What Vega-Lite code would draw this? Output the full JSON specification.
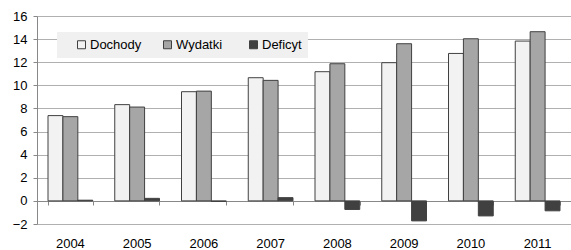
{
  "$schema": "https://vega.github.io/schema/vega-lite/v6.json",
  "width": 534,
  "height": 208,
  "autosize": {"type": "none"},
  "padding": {"left": 37, "top": 16, "right": 0, "bottom": 26},
  "config": {
    "font": "Liberation Sans",
    "view": {"stroke": null},
    "axis": {"labelFont": "Liberation Sans", "labelFontSize": 13, "labelColor": "#000000"}
  },
  "data": {
    "values": [
      {"Rok": "2004", "Seria": "Dochody", "v": 7.38},
      {"Rok": "2004", "Seria": "Wydatki", "v": 7.29},
      {"Rok": "2004", "Seria": "Deficyt", "v": 0.06},
      {"Rok": "2005", "Seria": "Dochody", "v": 8.33},
      {"Rok": "2005", "Seria": "Wydatki", "v": 8.12},
      {"Rok": "2005", "Seria": "Deficyt", "v": 0.22},
      {"Rok": "2006", "Seria": "Dochody", "v": 9.45},
      {"Rok": "2006", "Seria": "Wydatki", "v": 9.5},
      {"Rok": "2006", "Seria": "Deficyt", "v": -0.05},
      {"Rok": "2007", "Seria": "Dochody", "v": 10.66},
      {"Rok": "2007", "Seria": "Wydatki", "v": 10.43},
      {"Rok": "2007", "Seria": "Deficyt", "v": 0.28},
      {"Rok": "2008", "Seria": "Dochody", "v": 11.18},
      {"Rok": "2008", "Seria": "Wydatki", "v": 11.87},
      {"Rok": "2008", "Seria": "Deficyt", "v": -0.74},
      {"Rok": "2009", "Seria": "Dochody", "v": 11.96},
      {"Rok": "2009", "Seria": "Wydatki", "v": 13.6},
      {"Rok": "2009", "Seria": "Deficyt", "v": -1.73},
      {"Rok": "2010", "Seria": "Dochody", "v": 12.76},
      {"Rok": "2010", "Seria": "Wydatki", "v": 14.03},
      {"Rok": "2010", "Seria": "Deficyt", "v": -1.3},
      {"Rok": "2011", "Seria": "Dochody", "v": 13.83},
      {"Rok": "2011", "Seria": "Wydatki", "v": 14.64},
      {"Rok": "2011", "Seria": "Deficyt", "v": -0.86}
    ]
  },
  "resolve": {"axis": {"x": "independent", "y": "independent"}},
  "layer": [
    {
      "mark": {"type": "bar", "stroke": "#404040", "strokeWidth": 1},
      "encoding": {
        "x": {"field": "Rok", "type": "nominal",
          "scale": {"paddingInner": 0.33, "paddingOuter": 0.165},
          "axis": {"orient": "bottom", "title": null, "labelAngle": 0, "domain": false, "ticks": false, "labelPadding": 13, "grid": false}},
        "xOffset": {"field": "Seria", "type": "nominal", "sort": ["Dochody", "Wydatki", "Deficyt"], "scale": {"paddingInner": 0, "paddingOuter": 0}},
        "y": {"field": "v", "type": "quantitative",
          "scale": {"domain": [-2, 16], "nice": false},
          "axis": {"title": null, "values": [-2, 0, 2, 4, 6, 8, 10, 12, 14, 16], "grid": true, "gridColor": "#b0b0b0", "gridOpacity": 1, "domainColor": "#888888", "tickColor": "#888888", "tickSize": 4, "labelPadding": 6}},
        "color": {"field": "Seria", "type": "nominal", "sort": ["Dochody", "Wydatki", "Deficyt"],
          "scale": {"domain": ["Dochody", "Wydatki", "Deficyt"], "range": ["#f2f2f2", "#a6a6a6", "#404040"]},
          "legend": {"orient": "none", "legendX": 20, "legendY": 16, "direction": "horizontal", "columns": 3, "gridAlign": "all", "columnPadding": 19,
            "title": " ", "titleOrient": "left", "titlePadding": 12,
            "fillColor": "#f0f0f0", "padding": 6, "symbolType": "square", "symbolSize": 64, "symbolStrokeColor": "#404040", "symbolStrokeWidth": 1, "symbolOpacity": 1,
            "labelFontSize": 13, "labelFont": "Liberation Sans", "labelColor": "#000000", "labelOffset": 2}}
      }
    },
    {
      "mark": {"type": "rule", "opacity": 0},
      "encoding": {
        "x": {"field": "Rok", "type": "nominal",
          "axis": {"orient": "bottom", "offset": -23, "labels": false, "title": null, "domain": true, "domainColor": "#888888", "ticks": true, "tickBand": "extent", "tickColor": "#888888", "tickSize": 4, "grid": false}},
        "y": {"datum": 0, "type": "quantitative", "axis": null}
      }
    }
  ]
}
